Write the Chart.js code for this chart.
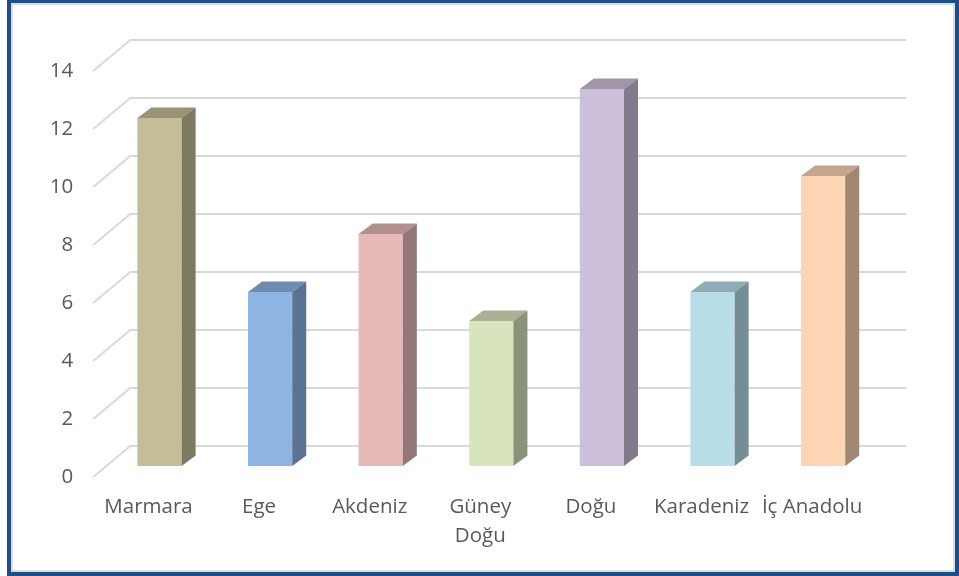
<!DOCTYPE html>
<html>
<head>
<meta charset="utf-8">
<script src="https://cdn.jsdelivr.net/npm/chart.js@4.4.1/dist/chart.umd.min.js"></script>
<style>
body{margin:0;background:#fff}
#wrap{position:relative;width:959px;height:576px;overflow:hidden}
#frame{position:absolute;left:7px;top:-1px;width:952px;height:577px;box-sizing:border-box;border:4px solid #1F4E86;pointer-events:none}
#frame div{position:absolute;inset:0;border:2px solid #DCDCDC}
canvas{position:absolute;left:0;top:0}
</style>
</head>
<body>
<div id="wrap">
<canvas id="regions" width="959" height="576"></canvas>
<div id="frame"><div></div></div>
</div>
<script>

const regions=["Marmara","Ege","Akdeniz",["Güney","Doğu"],"Doğu","Karadeniz","İç Anadolu"]
const counts=[12,6,8,5,13,6,10]
const yTicks=[0,2,4,6,8,10,12,14]

const barColors=["#C4BD97","#8DB4E2","#E6B9B8","#D7E4BD","#CCC0DA","#B7DEE8","#FCD5B5"]

// oblique depth of the plot box and of each bar
const DEPTH_BACK_X=26, DEPTH_BACK_Y=20, DEPTH_FRONT_X=11, DEPTH_FRONT_Y=11
const BAR_DX=14, BAR_DY=10.5

function shade(hex,k){
let n=parseInt(hex.slice(1),16)
let r=Math.round(((n>>16)&255)*k)
let g=Math.round(((n>>8)&255)*k)
let b=Math.round((n&255)*k)
return `rgb(${r},${g},${b})`
}

const wallGrid={
id:"wallGrid",
beforeDatasetsDraw(chart){
const c=chart.ctx
const a=chart.chartArea
const y=chart.scales.y
c.save()
c.strokeStyle="#D9D9D9"
c.lineWidth=2
yTicks.forEach(v=>{
const py=y.getPixelForValue(v)
c.beginPath()
c.moveTo(a.left-DEPTH_FRONT_X,py+DEPTH_FRONT_Y)
c.lineTo(a.left+DEPTH_BACK_X,py-DEPTH_BACK_Y)
c.lineTo(a.right+DEPTH_BACK_X+2,py-DEPTH_BACK_Y)
c.stroke()
})
c.restore()
}
}

const barSides={
id:"barSides",
afterDatasetsDraw(chart){
const c=chart.ctx
const meta=chart.getDatasetMeta(0)
c.save()
meta.data.forEach((bar,i)=>{
const p=bar.getProps(["x","y","base","width"],true)
const l=p.x-p.width/2
const r=p.x+p.width/2
// top face
c.fillStyle=shade(barColors[i],0.78)
c.beginPath()
c.moveTo(l,p.y)
c.lineTo(l+BAR_DX,p.y-BAR_DY)
c.lineTo(r+BAR_DX,p.y-BAR_DY)
c.lineTo(r,p.y)
c.closePath()
c.fill()
// right face
c.fillStyle=shade(barColors[i],0.64)
c.beginPath()
c.moveTo(r,p.y)
c.lineTo(r+BAR_DX,p.y-BAR_DY)
c.lineTo(r+BAR_DX,p.base-BAR_DY)
c.lineTo(r,p.base)
c.closePath()
c.fill()
})
c.restore()
}
}

new Chart(document.getElementById("regions"),{

type:"bar",

data:{
labels:regions,
datasets:[{
data:counts,
backgroundColor:barColors,
barPercentage:0.4,
categoryPercentage:1
}]
},

options:{
responsive:false,
animation:false,
layout:{padding:{left:0,right:80.6,top:60,bottom:0}},
plugins:{legend:{display:false},tooltip:{enabled:false}},
scales:{
x:{
grid:{display:false,drawTicks:false},
border:{display:false},
ticks:{
color:"#595959",
font:{family:"Open Sans",size:20.5,lineHeight:1.45},
padding:26,
labelOffset:-11,
maxRotation:0,
autoSkip:false
},
afterFit(s){s.height=110}
},
y:{
min:0,
max:14,
grid:{display:false,drawTicks:false},
border:{display:false},
ticks:{
stepSize:2,
color:"#595959",
font:{family:"Open Sans",size:20.5},
padding:31,
labelOffset:11
},
afterFit(s){s.width=104.2}
}
}
},

plugins:[wallGrid,barSides]

})

</script>
</body>
</html>
